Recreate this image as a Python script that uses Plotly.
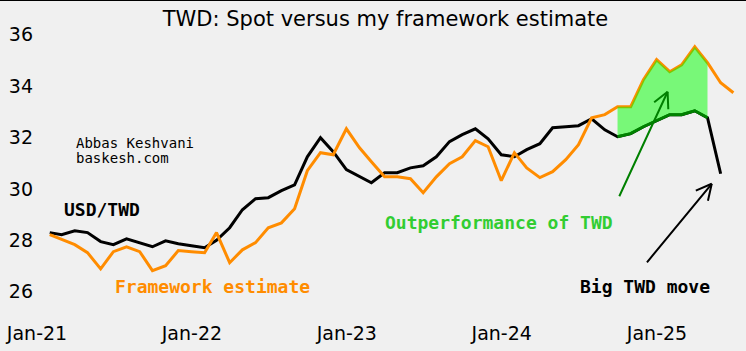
import numpy as np
import pandas as pd
import plotly.graph_objects as go

# ---- data ----
dates = pd.date_range("2021-01-31", periods=54, freq="ME")
usd_twd = [28.30, 28.22, 28.37, 28.30, 27.95, 27.83, 28.06, 27.91, 27.75, 27.98,
           27.87, 27.79, 27.71, 28.00, 28.49, 29.19, 29.62, 29.66, 29.93, 30.16,
           31.25, 31.99, 31.45, 30.75, 30.47, 30.24, 30.63, 30.63, 30.82, 30.90,
           31.25, 31.84, 32.11, 32.34, 31.95, 31.33, 31.25, 31.53, 31.76, 32.38,
           32.42, 32.46, 32.73, 32.30, 32.03, 32.15, 32.42, 32.65, 32.89, 32.89,
           33.04, 32.77, 30.59]
framework = [28.22, 28.02, 27.83, 27.52, 26.89, 27.56, 27.75, 27.56, 26.82, 27.01,
             27.60, 27.56, 27.52, 28.30, 27.13, 27.63, 27.91, 28.49, 28.68, 29.23,
             30.71, 31.41, 31.33, 32.34, 31.60, 31.06, 30.47, 30.47, 30.40, 29.85,
             30.47, 30.98, 31.25, 31.88, 31.64, 30.32, 31.41, 30.82, 30.44, 30.67,
             31.14, 31.72, 32.77, 32.89, 33.20, 33.20, 34.25, 35.03, 34.56, 34.83,
             35.53, 34.91, 34.13, 33.74]
fill_start, fill_end = 44, 51
tick_dates = ["2021-01-01", "2022-01-01", "2023-01-01", "2024-01-01", "2025-01-01"]
tick_text = ["Jan-21", "Jan-22", "Jan-23", "Jan-24", "Jan-25"]
y_ticks = [26, 28, 30, 32, 34, 36]

BG = "#f0f0f0"
W, H = 746, 351
ML, MR, MT, MB = 34, 6, 27, 31
PW, PH = W - ML - MR, H - MT - MB

def px(x):  # pixel -> paper x
    return (x - ML) / PW

def py(y):  # pixel -> paper y
    return (H - MB - y) / PH

fig = go.Figure()
bx = dates[:len(usd_twd)]
fig.add_trace(go.Scatter(x=bx, y=usd_twd, mode="lines",
                         line=dict(color="black", width=3), hoverinfo="skip"))
fig.add_trace(go.Scatter(x=dates, y=framework, mode="lines",
                         line=dict(color="#ff8c00", width=3), hoverinfo="skip"))
sl = slice(fill_start, fill_end + 1)
fig.add_trace(go.Scatter(x=dates[sl], y=framework[sl], mode="lines",
                         line=dict(width=0), hoverinfo="skip"))
fig.add_trace(go.Scatter(x=dates[sl], y=usd_twd[sl], mode="lines", fill="tonexty",
                         fillcolor="rgba(0,255,0,0.5)",
                         line=dict(color="#008000", width=3), hoverinfo="skip"))

annotations = []
def txt(t, xpix, ypix, size, color, bold=True, family="DejaVu Sans Mono"):
    annotations.append(dict(text=("<b>%s</b>" % t) if bold else t,
                            xref="paper", yref="paper", x=px(xpix), y=py(ypix),
                            xanchor="left", yanchor="middle", showarrow=False,
                            font=dict(family=family, size=size, color=color)))

txt("Abbas Keshvani", 74, 143, 14, "black", bold=False)
txt("baskesh.com", 74, 158, 14, "black", bold=False)
txt("USD/TWD", 62, 209, 18, "black")
txt("Framework estimate", 113, 286, 18, "#ff8c00")
txt("Outperformance of TWD", 383, 222, 18, "#32cd32")
txt("Big TWD move", 578, 286, 18, "black")

def arrow(xd, yd, ax, ay, color):
    annotations.append(dict(x=xd, y=yd, xref="x", yref="y", ax=ax, ay=ay, text="",
                            showarrow=True, arrowhead=0, arrowwidth=2,
                            arrowcolor=color, standoff=0, startstandoff=0))
    u = np.array([ax, ay], float)
    u /= np.linalg.norm(u)
    for th in (np.radians(27), -np.radians(27)):
        c, s = np.cos(th), np.sin(th)
        v = np.array([u[0] * c - u[1] * s, u[0] * s + u[1] * c]) * 19
        annotations.append(dict(x=xd, y=yd, xref="x", yref="y", ax=v[0], ay=v[1],
                                text="", showarrow=True, arrowhead=0, arrowwidth=2,
                                arrowcolor=color, standoff=0, startstandoff=0))

arrow("2025-01-26", 33.78, -49, 106, "#008000")
arrow("2025-05-10", 30.20, -66, 80, "black")

fig.update_layout(
    width=W, height=H,
    margin=dict(l=ML, r=MR, t=MT, b=MB),
    paper_bgcolor=BG, plot_bgcolor=BG,
    showlegend=False,
    title=dict(text="TWD: Spot versus my framework estimate", xref="container",
               yref="container", x=385.5 / W, y=1 - 19 / H, xanchor="center",
               yanchor="middle", font=dict(family="DejaVu Sans", size=21, color="black")),
    annotations=annotations,
    shapes=[dict(type="line", xref="paper", yref="paper", x0=px(0), x1=px(W),
                 y0=py(0.5), y1=py(0.5), line=dict(color="black", width=1))],
)
fig.update_xaxes(range=["2020-12-24 22:00", "2025-07-15 14:00"], tickvals=tick_dates,
                 ticktext=tick_text, showgrid=False, zeroline=False, showline=False,
                 tickfont=dict(family="DejaVu Sans", size=19, color="black"))
fig.update_yaxes(range=[24.9, 36.3], tickvals=y_ticks, showgrid=False, zeroline=False,
                 showline=False, tickfont=dict(family="DejaVu Sans", size=19, color="black"))

fig.write_html("out.html")
